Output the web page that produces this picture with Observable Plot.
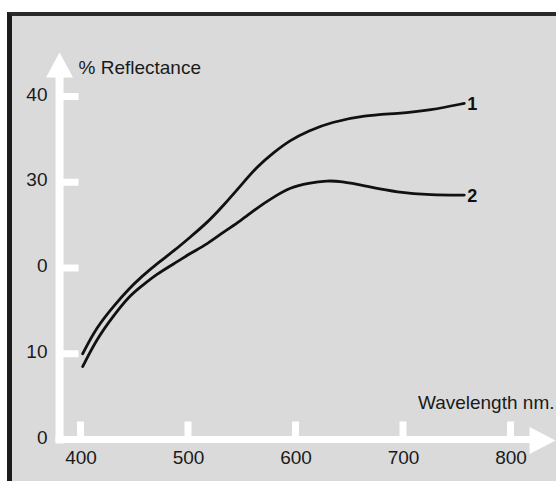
<!DOCTYPE html>
<html><head><meta charset="utf-8">
<script src="https://cdn.jsdelivr.net/npm/d3@7"></script>
<script src="https://cdn.jsdelivr.net/npm/@observablehq/plot@0.6"></script>
<style>
html,body{margin:0;padding:0;background:#fff;}
#wrap{position:relative;width:556px;height:481px;overflow:hidden;background:#fff;}
#panel{position:absolute;left:7px;top:12px;right:0;bottom:0;background:#dadada;border-left:5px solid #1c1c1c;border-top:4px solid #2a2a2a;}
#chart{position:absolute;left:0;top:0;}
</style></head><body>
<div id="wrap"><div id="panel"></div><div id="chart"></div></div>
<script>
// ---- data ----
const wavelength1 = [402, 415, 431, 446, 456, 471, 487, 502, 518, 533, 549, 564, 580, 595, 612, 633, 664, 695, 726, 757];
const reflectance1 = [10.0, 13.1, 15.6, 17.7, 18.9, 20.5, 22.0, 23.6, 25.3, 27.3, 29.6, 31.8, 33.5, 34.9, 36.0, 37.0, 37.8, 38.0, 38.4, 39.2];
const wavelength2 = [402, 415, 431, 446, 456, 471, 487, 502, 518, 533, 549, 564, 580, 595, 612, 630, 642, 664, 695, 726, 757];
const reflectance2 = [8.5, 11.7, 14.5, 16.8, 17.8, 19.3, 20.5, 21.7, 22.8, 24.2, 25.5, 27.0, 28.3, 29.4, 29.9, 30.2, 30.1, 29.6, 28.8, 28.5, 28.5];
const seriesLabels = ["1", "2"];
const xTicks = [400, 500, 600, 700, 800];
const yTicks = [0, 10, 20, 30, 40];
const yTickLabels = ["0", "10", "0", "30", "40"];
const yTitle = "% Reflectance";
const xTitle = "Wavelength nm.";

// ---- build tables ----
const s1 = wavelength1.map((w, i) => ({w, r: reflectance1[i], s: seriesLabels[0]}));
const s2 = wavelength2.map((w, i) => ({w, r: reflectance2[i], s: seriesLabels[1]}));
const rows = s1.concat(s2);
const ends = [s1[s1.length - 1], s2[s2.length - 1]];

// where the drawn (white) vertical axis sits, in nm
const X_ORIGIN = 380.5;

// custom white shapes for the axes (pixel geometry around the axis origin)
const yArrow = {draw(c) {
  c.moveTo(-4, 4); c.lineTo(-4, -362); c.lineTo(-13.5, -362); c.lineTo(0, -387);
  c.lineTo(13.5, -362); c.lineTo(4, -362); c.lineTo(4, 4); c.closePath();
}};
const xArrow = {draw(c) {
  c.moveTo(-4, -3.5); c.lineTo(470, -3.5); c.lineTo(470, -12.5); c.lineTo(496, 1);
  c.lineTo(470, 14.5); c.lineTo(470, 3.5); c.lineTo(-4, 3.5); c.closePath();
}};
const xStub = {draw(c) { c.rect(-3.5, -18, 7, 18); }};
const yStub = {draw(c) { c.rect(0, -3.5, 19, 7); }};

const white = {fill: "white", stroke: "none"};

const plot = Plot.plot({
  width: 556, height: 481,
  marginLeft: 80, marginRight: 46, marginTop: 96, marginBottom: 42,
  x: {domain: [400, 800]},
  y: {domain: [0, 40]},
  style: {background: "transparent", fontFamily: "'Liberation Sans', Arial, sans-serif", fontSize: "19px", color: "#1a1a1a", overflow: "visible"},
  marks: [
    Plot.dot([0], {x: () => X_ORIGIN, y: () => 0, symbol: yArrow, ...white}),
    Plot.dot([0], {x: () => X_ORIGIN, y: () => 0, symbol: xArrow, ...white}),
    Plot.dot(xTicks, {x: d => d, y: () => 0, symbol: xStub, ...white}),
    Plot.dot(yTicks.filter(d => d > 0), {x: () => X_ORIGIN, y: d => d, symbol: yStub, ...white}),
    Plot.axisX({ticks: xTicks, tickSize: 0, tickPadding: 11, label: null, fill: "#1a1a1a", fontSize: 19, dx: 0.5}),
    Plot.axisY({ticks: yTicks, tickFormat: d => yTickLabels[yTicks.indexOf(d)], tickSize: 0, tickPadding: 33, dy: -2, label: null, fill: "#1a1a1a", fontSize: 19}),
    Plot.line(rows, {x: "w", y: "r", z: "s", curve: "basis", stroke: "#111", strokeWidth: 2.8}),
    Plot.text(ends, {x: "w", y: "r", text: "s", dx: 3, dy: 1, textAnchor: "start", fontWeight: "bold", fontSize: 18, fill: "#111"}),
    Plot.text([yTitle], {frameAnchor: "top-left", dx: -2, dy: -36, textAnchor: "start", fontSize: 19, fill: "#1a1a1a"}),
    Plot.text([xTitle], {frameAnchor: "bottom-right", dx: 44, dy: -31, textAnchor: "end", fontSize: 19, fill: "#1a1a1a"})
  ]
});
document.getElementById("chart").appendChild(plot);
</script>
</body></html>
